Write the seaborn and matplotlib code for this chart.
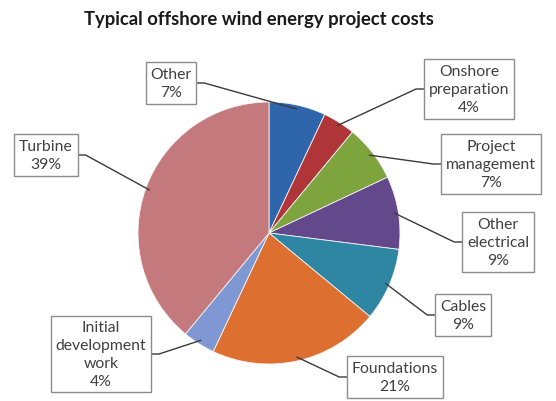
import numpy as np
import matplotlib.pyplot as plt
import seaborn as sns

categories = ["Other", "Onshore\npreparation", "Project\nmanagement", "Other\nelectrical",
              "Cables", "Foundations", "Initial\ndevelopment\nwork", "Turbine"]
shares = [7, 4, 7, 9, 9, 21, 4, 39]
colors = ["#2e65ab", "#b03538", "#7ea43d", "#64488c", "#2e86a3", "#dd7030", "#7f98d4", "#c47a7d"]

sns.set_theme(style="white")
plt.rcParams['font.family'] = ['Lato', 'DejaVu Sans']

W, H = 556, 402
fig = plt.figure(figsize=(W / 100, H / 100), dpi=100)
ax = fig.add_axes([0, 0, 1, 1])

# pie centre / radius in pixel units (y measured from the bottom)
cx, cy, R = 269, H - 234, 131
wedges, _ = ax.pie(shares, colors=colors, startangle=90, counterclock=False,
                   center=(cx, cy), radius=R,
                   wedgeprops=dict(edgecolor='#f4f4f4', linewidth=0.6))
ax.set_xlim(0, W)
ax.set_ylim(0, H)
ax.set_aspect('equal')
ax.axis('off')

# label box centres (pixels from top-left)
label_pos = [(171, 84), (469, 90), (491, 165), (498, 243),
             (463, 316), (395, 378), (101, 355), (46, 156)]

texts = []
for name, val, (px, py) in zip(categories, shares, label_pos):
    t = ax.text(px, H - py, f"{name}\n{val}%", ha='center', va='center',
                fontsize=11.3, color='#404040', linespacing=1.35,
                multialignment='center',
                bbox=dict(boxstyle='square,pad=0.3', fc='white', ec='#8c8c8c', lw=1))
    texts.append(t)

ax.text(259, H - 20, "Typical offshore wind energy project costs", ha='center',
        va='center', fontsize=13.3, fontweight='bold', color='#1a1a1a')

# leader lines: box side -> short horizontal stub -> wedge edge
fig.canvas.draw()
renderer = fig.canvas.get_renderer()
inv = ax.transData.inverted()
for w, t in zip(wedges, texts):
    mid = np.deg2rad((w.theta1 + w.theta2) / 2)
    ex, ey = cx + R * 0.97 * np.cos(mid), cy + R * 0.97 * np.sin(mid)
    bb = t.get_bbox_patch().get_window_extent(renderer)
    (x0, y0), (x1, y1) = inv.transform([(bb.x0, bb.y0), (bb.x1, bb.y1)])
    ym = (y0 + y1) / 2
    if (x0 + x1) / 2 > ex:
        bx, kx = x0, x0 - 8
    else:
        bx, kx = x1, x1 + 8
    ax.plot([bx, kx, ex], [ym, ym, ey], color='#3a3a3a', lw=1, zorder=1.5)

fig.savefig('out.png', dpi=100, facecolor='white')
